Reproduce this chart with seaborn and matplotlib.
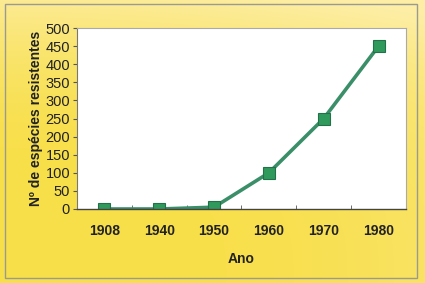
import numpy as np
import pandas as pd
import matplotlib
matplotlib.use("Agg")
import matplotlib.pyplot as plt
import seaborn as sns
from matplotlib.ticker import FixedLocator
from matplotlib.patches import Rectangle

anos = ["1908", "1940", "1950", "1960", "1970", "1980"]
especies = [0, 0, 5, 100, 250, 450]
yticks = [0, 50, 100, 150, 200, 250, 300, 350, 400, 450, 500]

df = pd.DataFrame({"Ano": anos, "Especies": especies})

sns.set_style("white")
plt.rcParams["font.family"] = ["Liberation Sans", "DejaVu Sans"]

fig = plt.figure(figsize=(4.25, 2.83), dpi=100)

# background gradient
bg = fig.add_axes([0, 0, 1, 1], zorder=-10)
h, w = 283, 425
yy, xx = np.mgrid[0:h, 0:w]
t = np.clip(0.9 * (1 - yy / h) ** 3 + 0.35 * (xx / w) ** 2 - 0.1, 0, 1)
pale = np.array([253, 238, 165]) / 255
sat = np.array([248, 223, 75]) / 255
img = sat[None, None, :] * (1 - t[..., None]) + pale[None, None, :] * t[..., None]
bg.imshow(img, aspect="auto", extent=[0, 1, 0, 1], origin="upper")
bg.set_xlim(0, 1)
bg.set_ylim(0, 1)
bg.axis("off")
bg.add_patch(Rectangle((5 / w, 1 - 278 / h), 412 / w, 274 / h, fill=False,
                       edgecolor="#9a9a90", lw=1.0, transform=bg.transAxes))

ax = fig.add_axes([77 / w, 1 - 209 / h, 329 / w, 181 / h])
ax.set_facecolor("white")
sns.lineplot(data=df, x="Ano", y="Especies", ax=ax, color="#3a8f68", lw=2.6,
             marker="s", markersize=9, markerfacecolor="#2f9a5c",
             markeredgecolor="#24704a", markeredgewidth=0.8, sort=False)

ax.set_xlim(-0.5, len(anos) - 0.5)
ax.set_ylim(0, 500)
ax.yaxis.set_major_locator(FixedLocator(yticks))
ax.xaxis.set_minor_locator(FixedLocator(np.arange(0.5, len(anos), 1.0)))
ax.tick_params(axis="x", which="major", length=0, pad=11, labelsize=10)
ax.tick_params(axis="x", which="minor", length=3, direction="in", color="#555555", bottom=True)
ax.tick_params(axis="y", which="major", length=3, direction="out", left=True, color="#555555",
               pad=2, labelsize=10.5, labelcolor="#222222")
for lab in ax.get_xticklabels():
    lab.set_fontweight("bold")
    lab.set_color("#222222")

ax.set_xlabel("Ano", fontsize=10, fontweight="bold", color="#222222", labelpad=10)
ax.set_ylabel("Nº de espécies resistentes", fontsize=10, fontweight="bold",
              color="#222222", labelpad=2)

for s in ["top", "right"]:
    ax.spines[s].set_color("#aaaaaa")
    ax.spines[s].set_linewidth(0.8)
ax.spines["left"].set_color("#777777")
ax.spines["bottom"].set_color("#444444")
ax.spines["left"].set_linewidth(0.8)
ax.spines["bottom"].set_linewidth(1.0)
ax.grid(False)

fig.savefig("out.png", dpi=100)
